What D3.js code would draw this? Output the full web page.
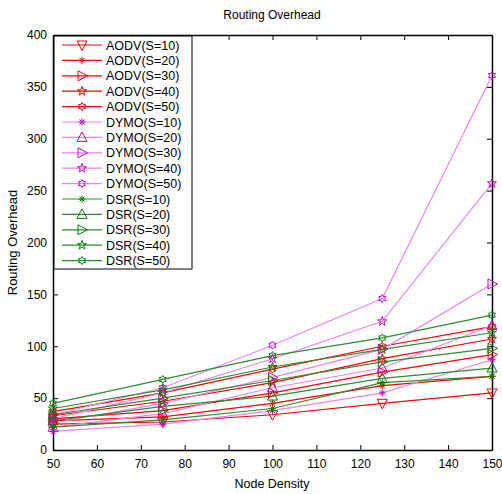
<!DOCTYPE html>
<html>
<head>
<meta charset="utf-8">
<script src="https://cdn.jsdelivr.net/npm/d3@7"></script>
<style>
body { margin: 0; background: #fff; }
svg { font-family: "Liberation Sans", Arial, sans-serif; }
</style>
</head>
<body>
<svg width="502" height="494"></svg>
<script>
var nodeDensity = [50, 75, 100, 125, 150];

var aodv10 = [25, 27, 34, 45, 55];
var aodv20 = [28, 32, 45, 62, 71];
var aodv30 = [30, 38, 55, 75, 92];
var aodv40 = [33, 47, 65, 88, 107];
var aodv50 = [37, 55, 78, 100, 119];
var dymo10 = [18, 25, 38, 55, 87];
var dymo20 = [22, 35, 60, 79, 120];
var dymo30 = [26, 45, 70, 97, 160];
var dymo40 = [30, 55, 88, 124, 257];
var dymo50 = [34, 60, 101, 146, 361];
var dsr10 = [22, 29, 40, 65, 71];
var dsr20 = [28, 42, 52, 69, 79];
var dsr30 = [34, 50, 67, 85, 98];
var dsr40 = [40, 58, 80, 97, 113];
var dsr50 = [45, 68, 91, 108, 130];

var seriesNames = ["AODV(S=10)", "AODV(S=20)", "AODV(S=30)", "AODV(S=40)", "AODV(S=50)",
    "DYMO(S=10)", "DYMO(S=20)", "DYMO(S=30)", "DYMO(S=40)", "DYMO(S=50)",
    "DSR(S=10)", "DSR(S=20)", "DSR(S=30)", "DSR(S=40)", "DSR(S=50)"];
var seriesValues = [aodv10, aodv20, aodv30, aodv40, aodv50,
    dymo10, dymo20, dymo30, dymo40, dymo50,
    dsr10, dsr20, dsr30, dsr40, dsr50];
var markerTypes = ["tridown", "asterisk", "triright", "star", "hex",
    "asterisk", "triup", "triright", "star", "hex",
    "asterisk", "triup", "triright", "star", "hex"];

var xTicks = [50, 60, 70, 80, 90, 100, 110, 120, 130, 140, 150];
var yTicks = [0, 50, 100, 150, 200, 250, 300, 350, 400];

var svg = d3.select("svg");
var pLeft = 53, pTop = 35, pRight = 492, pBottom = 450;

var x = d3.scaleLinear().domain([50, 150]).range([pLeft, pRight]);
var y = d3.scaleLinear().domain([0, 400]).range([pBottom, pTop]);

function lineColor(i) {
    if (i < 5) return "#ff0000";
    if (i < 10) return "#ee82ee";
    return "#2e8b2e";
}
function markColor(i) {
    if (i < 5) return "#ff0000";
    if (i < 10) return "#c800c8";
    return "#008000";
}

function markerPath(type) {
    var r = 5;
    if (type === "tridown") return "M" + (-r) + "," + (-r * 0.8) + "L" + r + "," + (-r * 0.8) + "L0," + (r * 1.1) + "Z";
    if (type === "triup") return "M" + (-r) + "," + (r * 0.8) + "L" + r + "," + (r * 0.8) + "L0," + (-r * 1.1) + "Z";
    if (type === "triright") return "M" + (-r * 0.8) + "," + (-r) + "L" + (-r * 0.8) + "," + r + "L" + (r * 1.1) + ",0Z";
    if (type === "asterisk") {
        var a = 3.5, d = 2.5;
        return "M0," + (-a) + "V" + a + "M" + (-a) + ",0H" + a +
            "M" + (-d) + "," + (-d) + "L" + d + "," + d + "M" + (-d) + "," + d + "L" + d + "," + (-d);
    }
    if (type === "star") return d3.symbol().type(d3.symbolStar).size(26)();
    if (type === "hex") {
        var p = [], ro = 4, ri = 2.4;
        for (var k = 0; k < 12; k++) {
            var ang = Math.PI / 6 * k - Math.PI / 2;
            var rr = k % 2 === 0 ? ro : ri;
            p.push([rr * Math.cos(ang), rr * Math.sin(ang)]);
        }
        return "M" + p.map(function (q) { return q[0].toFixed(2) + "," + q[1].toFixed(2); }).join("L") + "Z";
    }
    return "";
}

// axes frame
svg.append("g").attr("transform", "translate(0," + pBottom + ")")
    .call(d3.axisBottom(x).tickValues(xTicks).tickSizeInner(-5).tickSizeOuter(0).tickPadding(9));
svg.append("g").attr("transform", "translate(" + pLeft + ",0)")
    .call(d3.axisLeft(y).tickValues(yTicks).tickSizeInner(-5).tickSizeOuter(0).tickPadding(6));
svg.append("g").attr("transform", "translate(0," + pTop + ")")
    .call(d3.axisTop(x).tickValues(xTicks).tickSizeInner(-5).tickSizeOuter(0).tickFormat(""));
svg.append("g").attr("transform", "translate(" + pRight + ",0)")
    .call(d3.axisRight(y).tickValues(yTicks).tickSizeInner(-5).tickSizeOuter(0).tickFormat(""));
svg.selectAll(".domain").attr("stroke", "#000").attr("stroke-width", 1.5);
svg.selectAll(".tick line").attr("stroke", "#000");
svg.selectAll(".tick text").attr("font-size", 12).attr("fill", "#000")
    .attr("font-family", "Liberation Sans, Arial, sans-serif");

// lines and markers
var line = d3.line().x(function (d, i) { return x(nodeDensity[i]); }).y(function (d) { return y(d); });
var plot = svg.append("g");
seriesValues.forEach(function (vals, i) {
    plot.append("path").datum(vals).attr("d", line)
        .attr("fill", "none").attr("stroke", lineColor(i)).attr("stroke-width", 1.2);
});
seriesValues.forEach(function (vals, i) {
    plot.selectAll(".m" + i).data(vals).join("path")
        .attr("class", "m" + i)
        .attr("transform", function (d, j) { return "translate(" + x(nodeDensity[j]) + "," + y(d) + ")"; })
        .attr("d", markerPath(markerTypes[i]))
        .attr("fill", "none").attr("stroke", markColor(i)).attr("stroke-width", 1);
});

// legend
var lg = svg.append("g");
lg.append("rect").attr("x", pLeft + 1).attr("y", pTop + 1).attr("width", 138).attr("height", 233)
    .attr("fill", "#fff").attr("stroke", "#000").attr("stroke-width", 1);
seriesNames.forEach(function (name, i) {
    var yy = 45 + i * 15.4;
    lg.append("line").attr("x1", 62).attr("x2", 102).attr("y1", yy).attr("y2", yy)
        .attr("stroke", lineColor(i)).attr("stroke-width", 1.2);
    lg.append("path").attr("transform", "translate(82," + yy + ")")
        .attr("d", markerPath(markerTypes[i]))
        .attr("fill", "none").attr("stroke", markColor(i)).attr("stroke-width", 1);
    lg.append("text").attr("x", 106).attr("y", yy + 4.5).attr("font-size", 12.5).text(name);
});

// titles
svg.append("text").attr("x", 272).attr("y", 19).attr("text-anchor", "middle")
    .attr("font-size", 12).text("Routing Overhead");
svg.append("text").attr("x", 272).attr("y", 488).attr("text-anchor", "middle")
    .attr("font-size", 12.5).text("Node Density");
svg.append("text").attr("transform", "translate(17," + ((pTop + pBottom) / 2) + ") rotate(-90)")
    .attr("text-anchor", "middle").attr("font-size", 13).text("Routing Overhead");
</script>
</body>
</html>
